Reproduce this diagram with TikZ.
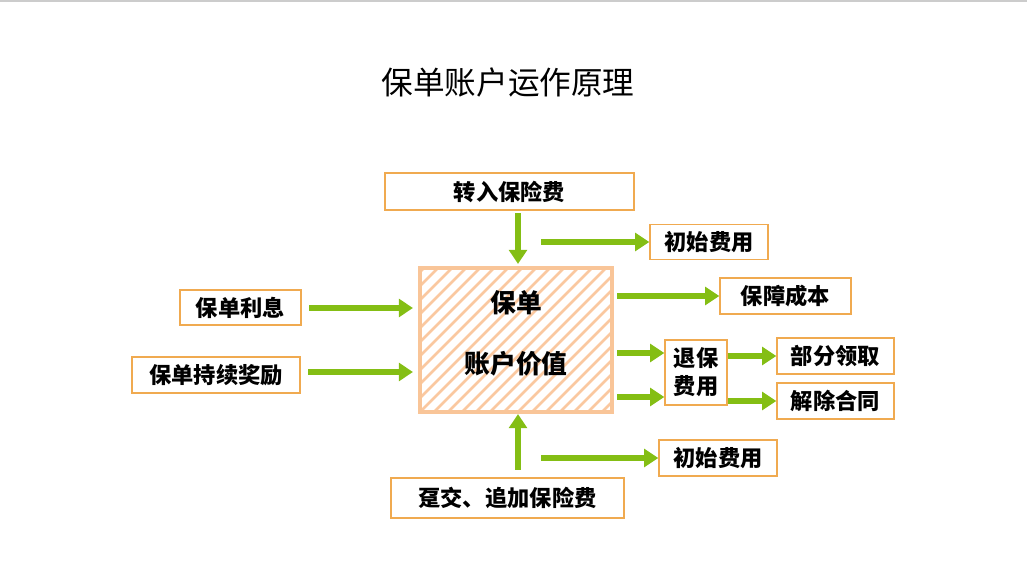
\documentclass[tikz,border=0pt]{standalone}
\usepackage{fontspec}
\newfontfamily\cjk{Noto Sans CJK SC}
\usetikzlibrary{arrows.meta}
\definecolor{gr}{RGB}{132,190,20}
\definecolor{ob}{RGB}{240,170,80}
\definecolor{hatch}{RGB}{250,200,160}
\tikzset{x=0.03cm,y=-0.03cm,
 bx/.style={draw=ob,line width=1.2pt,fill=white,font=\cjk\bfseries\fontsize{19}{22}\selectfont,inner sep=0pt,align=center},
 ga/.style={draw=gr,line width=5pt,-{Triangle[length=12pt,width=15pt]}}}
\begin{document}
\begin{tikzpicture}
\useasboundingbox (0,0) rectangle (1027,571);
\draw[gray!40,line width=1pt] (0,1) -- (1027,1);
\node[font=\cjk\fontsize{27}{30}\selectfont] (title) at (508,82) {保单账户运作原理};
% central box
\begin{scope}
\clip (420,268) rectangle (612,412);
\foreach \i in {-20,...,30} \draw[hatch,line width=2.2pt] (420+\i*14,412) -- ++(150,-150);
\end{scope}
\node[draw=hatch!90!ob,line width=4pt,minimum width=192*0.03cm,minimum height=144*0.03cm,inner sep=0pt] (c) at (516,340) {};
\node[font=\cjk\bfseries\fontsize{22}{26}\selectfont] (t1) at (516,303) {保单};
\node[font=\cjk\bfseries\fontsize{22}{26}\selectfont] (t2) at (516,364) {账户价值};
\node[bx,minimum width=249*0.03cm,minimum height=37*0.03cm] (in) at (509.5,191.5) {转入保险费};
\node[bx,minimum width=118*0.03cm,minimum height=35*0.03cm] (f1) at (709,242) {初始费用};
\node[bx,minimum width=131*0.03cm,minimum height=36*0.03cm] (bz) at (785.5,296) {保障成本};
\node[bx,minimum width=121*0.03cm,minimum height=35*0.03cm] (lx) at (240.5,307.5) {保单利息};
\node[bx,minimum width=168*0.03cm,minimum height=36*0.03cm] (jl) at (216,375) {保单持续奖励};
\node[bx,minimum width=62*0.03cm,minimum height=65*0.03cm] (tb) at (696,372.5) {退保\\[2pt]费用};
\node[bx,minimum width=117*0.03cm,minimum height=36*0.03cm] (bf) at (835.5,356) {部分领取};
\node[bx,minimum width=117*0.03cm,minimum height=36*0.03cm] (jc) at (835.5,401) {解除合同};
\node[bx,minimum width=118*0.03cm,minimum height=36*0.03cm] (f2) at (718,458) {初始费用};
\node[bx,minimum width=233*0.03cm,minimum height=40*0.03cm] (zj) at (507.5,498) {趸交、追加保险费};
% arrows
\coordinate (a1) at (518,213); \coordinate (a2) at (518,264);
\draw[ga] (a1) -- (a2);
\coordinate (b1) at (541,242); \draw[ga] (b1) -- (f1.west|-b1);
\coordinate (b2) at (617,296); \draw[ga] (b2) -- (bz.west|-b2);
\draw[ga] (309,308) coordinate (b3) -- (413,308) coordinate (b3e);
\draw[ga] (308,372) coordinate (b4) -- (413,372) coordinate (b4e);
\draw[ga] (617,353) coordinate (b5) -- (tb.west|-b5);
\draw[ga] (617,397) coordinate (b6) -- (tb.west|-b6);
\draw[ga] (tb.east|-bf) -- (bf.west);
\draw[ga] (tb.east|-jc) -- (jc.west);
\draw[ga] (518,470) coordinate (b7) -- (518,414) coordinate (b7e);
\draw[ga] (541,458) coordinate (b8) -- (f2.west|-b8);
\end{tikzpicture}
\end{document}
